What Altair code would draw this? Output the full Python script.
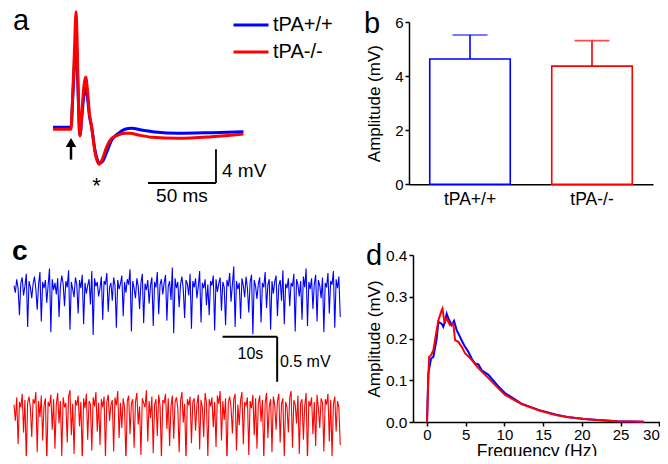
import altair as alt
import pandas as pd

FONT = "Liberation Sans"
GENO = ["tPA+/+", "tPA-/-"]
COLORS = ["#0000ff", "#ff0000"]

# ---------------- panel a: evoked field potentials (t in ms, v in mV)
A_T_BLUE = [-13.2, 0, 1.1, 2.5, 3.7, 4.4, 5.1, 6.6, 8.1, 9.5, 10.8, 12.0, 13.5, 15.2,
            17.6, 21.3, 23.5, 26.3, 29.9, 34.8, 39.7, 44.6, 51.9, 61.7, 79.0, 103.5, 126.8]
A_V_BLUE = [0.08, 0.08, 3.0, 7.5, 10.4, 8.5, 4.8, -0.85, 1.6, 3.9, 4.75, 3.8, 1.5, 0.1,
            -2.6, -4.16, -3.9, -2.85, -1.43, -0.63, -0.15, -0.04, -0.24, -0.47, -0.63, -0.55, -0.44]
A_T_RED = [-13.2, 0, 1.1, 2.5, 3.7, 4.4, 5.1, 6.6, 8.1, 9.5, 10.8, 12.0, 13.5, 15.2,
           17.6, 20.6, 22.8, 26.3, 29.9, 33.6, 39.7, 43.3, 49.5, 59.3, 79.0, 103.5, 126.8]
A_V_RED = [-0.15, -0.15, 3.3, 9.0, 13.8, 11.0, 5.7, -0.95, 2.1, 5.0, 6.06, 4.7, 1.8, 0.12,
           -2.85, -4.3, -3.8, -2.2, -1.23, -0.91, -0.63, -0.63, -0.83, -1.1, -1.23, -1.03, -0.7]

# ---------------- panel b: amplitude mean and mean + SEM (mV)
B_MEAN = [4.63, 4.37]
B_ERR_TOP = [5.52, 5.31]

# ---------------- panel c: spontaneous traces, hundredths of mV, one sample per 0.25 s
C_DT = 0.25
C_BLUE = [
    5, -3, 12, 2, -28, 8, 14, -6, 4, 18, -41, 10,
    3, -9, 7, 15, 1, -22, 6, 20, -35, 9, 2, 11,
    -14, 5, 24, -47, 12, 0, 8, -5, 13, -30, 4, 16,
    7, -18, 10, 3, 22, -44, 9, 1, -8, 14, 6, -26,
    11, 2, 17, -38, 8, -4, 5, 12, -16, 21, -50, 13,
    4, 9, -7, 2, 15, -33, 10, 6, 19, -24, 3, 8,
    -12, 14, 5, -42, 11, 1, 7, 16, -29, 9, -3, 12,
    6, 23, -46, 10, 2, -9, 13, 4, -21, 8, 18, -37,
    7, 0, 11, -15, 5, 14, -40, 9, 3, 20, -27, 6,
    12, -5, 8, 17, -34, 4, 10, -11, 25, -48, 13, 2,
    9, -19, 6, 15, 1, -31, 11, 7, -6, 18, -43, 10,
    3, 13, -9, 4, 21, -36, 8, 2, 12, -17, 6, -28,
    10, 5, 16, -45, 12, -2, 7, 14, -23, 9, 3, -39,
    11, 4, 19, -13, 6, 26, -41, 10, 1, 8, -32, 13,
    5, -8, 15, 2, -25, 9, 17, -49, 11, 4, -10, 7,
    14, -36, 8, 3, 20, -20, 6, 12, -44, 10, -4, 9,
    16, -29, 5, 11, -12, 22, -38, 7, 2, 13, -18, 8,
    4, 18, -46, 12, 6, -7, 10, -33, 15, 3, 24, -40,
    9, 1, 13, -21, 7, 17, -35, 11, 5, -9, 14, -47,
    8, 3, 19, -26, 10, 6, 21, -42, 12, 2, 15, -30,
]
C_RED = [
    6, -12, 14, -38, 9, 3, 18, -25, 11, -55, 8, 15,
    2, -30, 12, 7, 20, -47, 10, -8, 16, -34, 5, 13,
    -60, 9, 4, 17, -22, 12, -43, 6, 19, -15, 10, -51,
    14, 3, 8, -36, 15, 22, -28, 7, -49, 11, 5, 16,
    -18, 9, -57, 13, 2, 18, -33, 10, 6, -45, 14, 4,
    20, -24, 8, -39, 12, 3, 15, -53, 9, 17, -12, 6,
    11, -46, 14, 5, 21, -31, 8, -20, 13, 2, -58, 10,
    16, -27, 7, 12, -42, 9, 19, -16, 4, -50, 13, 8,
    3, 22, -35, 10, -9, 15, -48, 6, 12, -29, 17, 5,
    -54, 11, 8, 18, -21, 13, -40, 4, 16, -32, 9, 14,
    2, -47, 10, 20, -14, 7, -56, 12, 5, 15, -37, 9,
    13, -23, 6, 17, -44, 11, 3, -30, 19, 8, -52, 12,
    4, 14, -19, 9, -41, 16, 7, 21, -34, 10, -11, 13,
    -59, 8, 15, 3, -26, 12, 18, -45, 6, -17, 11, 20,
    -38, 9, 5, 14, -50, 10, 2, 17, -28, 13, -43, 7,
    16, -13, 11, -55, 8, 19, -31, 4, 12, -47, 15, 6,
    -22, 10, 18, -36, 7, 13, -53, 9, 3, -25, 14, 21,
    -42, 11, 6, -15, 16, -49, 8, 12, -33, 5, 19, -57,
    10, 4, 14, -27, 9, -40, 17, 2, -20, 13, 8, -46,
    12, 6, 18, -35, 11, -52, 7, 15, -24, 10, 3, -39,
]
C_ROW_GAP = 1.333  # vertical separation of the two traces (mV)

# ---------------- panel d: amplitude spectra
D_F_BLUE = [0, 0.17, 0.52, 0.82, 1.25, 1.47, 1.9, 2.1, 2.33, 2.54, 2.76, 3.2, 3.49, 3.83,
            4.27, 4.48, 4.91, 5.34, 5.77, 6.2, 6.64, 7.07, 7.93, 9.22, 10.09, 12.2, 14.4,
            16.6, 18.1, 20.3, 22.5, 24.6, 28]
D_A_BLUE = [0, 0.116, 0.152, 0.156, 0.2, 0.24, 0.235, 0.228, 0.24, 0.259, 0.248, 0.232,
            0.242, 0.22, 0.204, 0.195, 0.18, 0.168, 0.152, 0.14, 0.138, 0.124, 0.113,
            0.085, 0.069, 0.044, 0.029, 0.018, 0.012, 0.007, 0.004, 0.002, 0.0005]
D_F_RED = [0, 0.26, 0.52, 0.82, 1.25, 1.47, 1.9, 2.0, 2.24, 2.54, 2.97, 3.4, 3.62, 4.05,
           4.48, 4.91, 5.77, 6.64, 7.93, 9.22, 10.09, 12.2, 14.4, 16.6, 18.1, 20.3, 22.5,
           24.6, 28]
D_A_RED = [0, 0.156, 0.16, 0.172, 0.22, 0.244, 0.268, 0.272, 0.24, 0.248, 0.232, 0.236,
           0.196, 0.192, 0.18, 0.165, 0.149, 0.129, 0.105, 0.081, 0.065, 0.043, 0.028,
           0.017, 0.012, 0.007, 0.004, 0.002, 0.0005]

# ============================================================ build
strokes = alt.Scale(domain=GENO, range=COLORS)


def series(xs, ys, g, xn, yn):
    return pd.DataFrame({xn: xs, yn: ys, "geno": g})


# ---- panel a
a_xs = alt.Scale(domain=[0, 50], range=[63, 131], nice=False, zero=False)
a_ys = alt.Scale(domain=[0, 4], range=[120, 86.3], nice=False, zero=False)
a_df = pd.concat([series(A_T_BLUE, A_V_BLUE, GENO[0], "t", "v"),
                  series(A_T_RED, A_V_RED, GENO[1], "t", "v")])

a_lines = alt.Chart(a_df).mark_line(strokeWidth=3, interpolate="monotone").encode(
    x=alt.X("t:Q", scale=a_xs, axis=None),
    y=alt.Y("v:Q", scale=a_ys, axis=None),
    color=alt.Color("geno:N", scale=alt.Scale(domain=GENO, range=COLORS), sort=GENO,
                    legend=alt.Legend(orient="none", legendX=224, legendY=7, title=None,
                                      symbolType="stroke", symbolSize=1225,
                                      symbolStrokeWidth=3, labelFontSize=20,
                                      labelFont=FONT, labelColor="black",
                                      labelOffset=3, clipHeight=20, rowPadding=7)),
)

a_bar = alt.Chart(pd.DataFrame({"t1": [56.6, 106.6], "v1": [-6.53, -6.53],
                                "t2": [106.6, 106.6], "v2": [-6.53, -2.53]})).mark_rule(
    strokeWidth=1.8, color="black").encode(
    x=alt.X("t1:Q", scale=a_xs, axis=None), y=alt.Y("v1:Q", scale=a_ys, axis=None),
    x2="t2:Q", y2="v2:Q")

a_arrow = alt.Chart(pd.DataFrame({"t": [0], "v1": [-3.75], "v2": [-2.2]})).mark_rule(
    strokeWidth=2.5, color="black").encode(
    x=alt.X("t:Q", scale=a_xs, axis=None), y=alt.Y("v1:Q", scale=a_ys, axis=None), y2="v2:Q")
a_head = alt.Chart(pd.DataFrame({"t": [0], "v": [-1.72]})).mark_point(
    shape="triangle-up", size=110, filled=True, color="black", opacity=1).encode(
    x=alt.X("t:Q", scale=a_xs, axis=None), y=alt.Y("v:Q", scale=a_ys, axis=None))


def a_text(label, t, v, align, size):
    return alt.Chart(pd.DataFrame({"t": [t], "v": [v], "s": [label]})).mark_text(
        align=align, baseline="alphabetic", fontSize=size, font=FONT, color="black").encode(
        x=alt.X("t:Q", scale=a_xs, axis=None), y=alt.Y("v:Q", scale=a_ys, axis=None),
        text="s:N")


panel_a = alt.layer(a_lines, a_bar, a_arrow, a_head,
                    a_text("4 mV", 111, -5.82, "left", 19),
                    a_text("50 ms", 81.6, -8.75, "center", 19),
                    a_text("*", 18.7, -7.7, "center", 22))

# ---- panel b
b_df = pd.DataFrame({"geno": GENO, "mean": B_MEAN, "err": B_ERR_TOP})
b_x = alt.X("geno:N", sort=GENO,
            scale=alt.Scale(domain=GENO, range=[401, 645], paddingInner=0.34, paddingOuter=0.17),
            axis=alt.Axis(orient="bottom", offset=-271.7, title=None, labelAngle=0,
                          labelFontSize=17.5, ticks=False, tickSize=0, labelPadding=6))
b_ys = alt.Scale(domain=[0, 6], range=[176.3, 14], nice=False, zero=False)
b_y = alt.Y("mean:Q", scale=b_ys,
            axis=alt.Axis(orient="left", offset=-401, values=[0, 2, 4, 6], format="d",
                          title="Amplitude (mV)", labelFontSize=15, tickSize=4,
                          labelPadding=2, titleX=-34.5, titleBaseline="middle"))
b_bars = alt.Chart(b_df).mark_bar(fill="white", strokeWidth=1.6).encode(
    x=b_x, y=b_y, stroke=alt.Stroke("geno:N", scale=strokes, legend=None))
b_err = alt.Chart(b_df).mark_rule(strokeWidth=1.6).encode(
    x=b_x, y=alt.Y("mean:Q", scale=b_ys), y2="err:Q",
    stroke=alt.Stroke("geno:N", scale=strokes, legend=None))
b_cap = alt.Chart(b_df).mark_tick(size=35, thickness=1.6).encode(
    x=b_x, y=alt.Y("err:Q", scale=b_ys),
    fill=alt.Fill("geno:N", scale=strokes, legend=None))
panel_b = alt.layer(b_bars, b_err, b_cap)

# ---- panel c
c_xs = alt.Scale(domain=[0, 10], range=[6, 60.6], nice=False, zero=False)
c_ys = alt.Scale(domain=[0, 0.5], range=[402, 357], nice=False, zero=False)
c_df = pd.concat([
    pd.DataFrame({"t": [i * C_DT for i in range(len(C_BLUE))],
                  "v": [x / 100 + C_ROW_GAP for x in C_BLUE], "geno": GENO[0]}),
    pd.DataFrame({"t": [i * C_DT for i in range(len(C_RED))],
                  "v": [x / 100 for x in C_RED], "geno": GENO[1]}),
])
c_lines = alt.Chart(c_df).mark_line(strokeWidth=1.1).encode(
    x=alt.X("t:Q", scale=c_xs, axis=None), y=alt.Y("v:Q", scale=c_ys, axis=None),
    stroke=alt.Stroke("geno:N", scale=strokes, legend=None))
c_bar = alt.Chart(pd.DataFrame({"t1": [38.2, 48.2], "v1": [0.814, 0.814],
                                "t2": [48.2, 48.2], "v2": [0.814, 0.314]})).mark_rule(
    strokeWidth=2, color="black").encode(
    x=alt.X("t1:Q", scale=c_xs, axis=None), y=alt.Y("v1:Q", scale=c_ys, axis=None),
    x2="t2:Q", y2="v2:Q")


def c_text(label, t, v, align):
    return alt.Chart(pd.DataFrame({"t": [t], "v": [v], "s": [label]})).mark_text(
        align=align, baseline="alphabetic", fontSize=16, font=FONT, color="black").encode(
        x=alt.X("t:Q", scale=c_xs, axis=None), y=alt.Y("v:Q", scale=c_ys, axis=None),
        text="s:N")


panel_c = alt.layer(c_lines, c_bar, c_text("10s", 43.3, 0.563, "center"),
                    c_text("0.5 mV", 48.7, 0.481, "left"))

# ---- panel d
d_df = pd.concat([series(D_F_BLUE, D_A_BLUE, GENO[0], "f", "a"),
                  series(D_F_RED, D_A_RED, GENO[1], "f", "a")])
panel_d = alt.Chart(d_df).mark_line(strokeWidth=2).encode(
    x=alt.X("f:Q", scale=alt.Scale(domain=[-1.81, 30.1], range=[405, 652], nice=False, zero=False),
            axis=alt.Axis(orient="bottom", offset=-34, values=[0, 5, 10, 15, 20, 25, 30],
                          title="Frequency (Hz)", labelFontSize=15, tickSize=4,
                          labelPadding=1, titleFontSize=17.5, titleY=34,
                          titleBaseline="alphabetic")),
    y=alt.Y("a:Q", scale=alt.Scale(domain=[0, 0.4], range=[414, 247], nice=False, zero=False),
            axis=alt.Axis(orient="left", offset=-405, values=[0, 0.1, 0.2, 0.3, 0.4],
                          format=".1f", title="Amplitude (mV)", labelFontSize=15.5,
                          tickSize=4, labelPadding=2, titleX=-38.5, titleBaseline="middle")),
    stroke=alt.Stroke("geno:N", scale=strokes, legend=None),
)

# ---- panel letters
def letter(s, px, py, weight="normal", size=29):
    return alt.Chart(alt.Data(values=[{}])).mark_text(
        text=s, align="left", baseline="alphabetic", fontSize=size, font=FONT,
        fontWeight=weight, color="black").encode(x=alt.value(px), y=alt.value(py))


letters = alt.layer(letter("a", 5, 22), letter("b", 356, 25), letter("c", 4, 252, "bold", 28),
                    letter("d", 358, 257))

chart = alt.layer(panel_a, panel_b, panel_c, panel_d, letters).resolve_scale(
    x="independent", y="independent"
).properties(
    width=652, height=448, padding=0, autosize=alt.AutoSizeParams(type="none")
).configure_view(stroke=None).configure_axis(
    grid=False, domainColor="black", domainWidth=1.5, tickColor="black", tickWidth=1.5,
    labelColor="black", titleColor="black", labelFont=FONT, titleFont=FONT,
    titleFontWeight="normal", titleFontSize=17,
)

chart.save("out.html", embed_options={"renderer": "svg", "actions": False})
